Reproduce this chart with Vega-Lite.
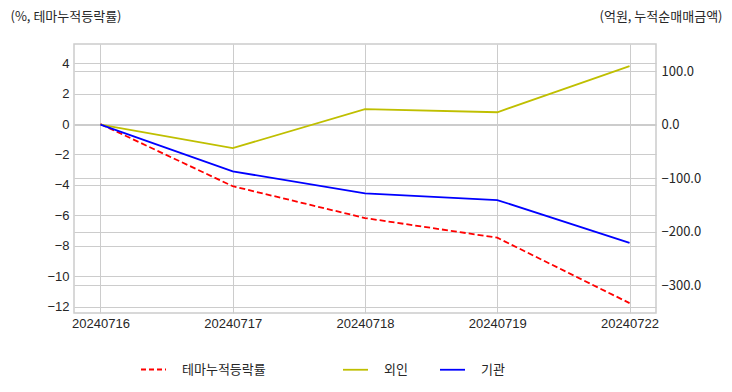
{
  "$schema": "https://vega.github.io/schema/vega-lite/v6.json",
  "width": 582,
  "height": 269,
  "autosize": {"type": "none"},
  "padding": {"left": 74, "top": 44, "right": 76, "bottom": 79},
  "background": "white",
  "config": {
    "view": {"stroke": "#cccccc", "strokeWidth": 1.5},
    "axis": {
      "gridColor": "#cccccc",
      "gridWidth": 1,
      "ticks": false,
      "domain": false,
      "labelFont": "Liberation Sans",
      "labelFontSize": 13,
      "labelColor": "#262626",
      "titleFont": "Noto Sans CJK KR",
      "titleFontSize": 13,
      "titleFontWeight": "normal",
      "titleColor": "#262626"
    },
    "legend": {
      "labelFont": "Noto Sans CJK KR",
      "labelFontSize": 13,
      "labelColor": "#262626",
      "symbolType": "stroke",
      "symbolSize": 625,
      "symbolStrokeWidth": 1.8,
      "labelOffset": 15,
      "padding": 0,
      "direction": "horizontal",
      "orient": "none",
      "title": null
    }
  },
  "datasets": {
    "theme": [
      {"date": "20240716", "series": "테마누적등락률", "value": 0},
      {"date": "20240717", "series": "테마누적등락률", "value": -4.08},
      {"date": "20240718", "series": "테마누적등락률", "value": -6.17},
      {"date": "20240719", "series": "테마누적등락률", "value": -7.46},
      {"date": "20240722", "series": "테마누적등락률", "value": -11.75}
    ],
    "flow": [
      {"date": "20240716", "series": "외인", "value": 0},
      {"date": "20240717", "series": "외인", "value": -44},
      {"date": "20240718", "series": "외인", "value": 29},
      {"date": "20240719", "series": "외인", "value": 23},
      {"date": "20240722", "series": "외인", "value": 109},
      {"date": "20240716", "series": "기관", "value": 0},
      {"date": "20240717", "series": "기관", "value": -87.5},
      {"date": "20240718", "series": "기관", "value": -128.5},
      {"date": "20240719", "series": "기관", "value": -141},
      {"date": "20240722", "series": "기관", "value": -221}
    ]
  },
  "layer": [
    {
      "data": {"name": "theme"},
      "mark": {"type": "line", "strokeWidth": 1.8, "strokeDash": [6, 3]},
      "encoding": {
        "x": {
          "field": "date",
          "type": "ordinal",
          "scale": {"type": "point", "padding": 0.2},
          "axis": {"labelAngle": 0, "labelPadding": 4, "grid": true, "title": null}
        },
        "y": {
          "field": "value",
          "type": "quantitative",
          "scale": {"domain": [-12.4, 5.25], "nice": false, "zero": false},
          "axis": {
            "orient": "left",
            "values": [-12, -10, -8, -6, -4, -2, 0, 2, 4],
            "grid": true,
            "labelPadding": 5,
            "title": "(%, 테마누적등락률)",
            "titleAngle": 0,
            "titleAlign": "left",
            "titleBaseline": "middle",
            "titleX": -64,
            "titleY": -28
          }
        },
        "stroke": {
          "field": "series",
          "type": "nominal",
          "scale": {"domain": ["테마누적등락률"], "range": ["#ff0000"]},
          "legend": {"legendX": 66, "legendY": 312, "symbolDash": [5, 3]}
        }
      }
    },
    {
      "data": {"name": "flow"},
      "mark": {"type": "line", "strokeWidth": 1.8},
      "encoding": {
        "x": {
          "field": "date",
          "type": "ordinal",
          "scale": {"type": "point", "padding": 0.2},
          "axis": {"labelAngle": 0, "labelPadding": 4, "grid": true, "title": null}
        },
        "y": {
          "field": "value",
          "type": "quantitative",
          "scale": {"domain": [-352, 150.5], "nice": false, "zero": false},
          "axis": {
            "orient": "right",
            "values": [-300, -200, -100, 0, 100],
            "format": ".1f",
            "grid": true,
            "labelFont": "Noto Sans CJK KR",
            "labelPadding": 5,
            "title": "(억원, 누적순매매금액)",
            "titleAngle": 0,
            "titleAlign": "right",
            "titleBaseline": "middle",
            "titleX": 66,
            "titleY": -28
          }
        },
        "color": {
          "field": "series",
          "type": "nominal",
          "sort": ["외인", "기관"],
          "scale": {"domain": ["외인", "기관"], "range": ["#bfbf00", "#0000ff"]},
          "legend": {"legendX": 268, "legendY": 312, "columnPadding": 28}
        }
      }
    }
  ],
  "resolve": {"scale": {"y": "independent"}}
}
